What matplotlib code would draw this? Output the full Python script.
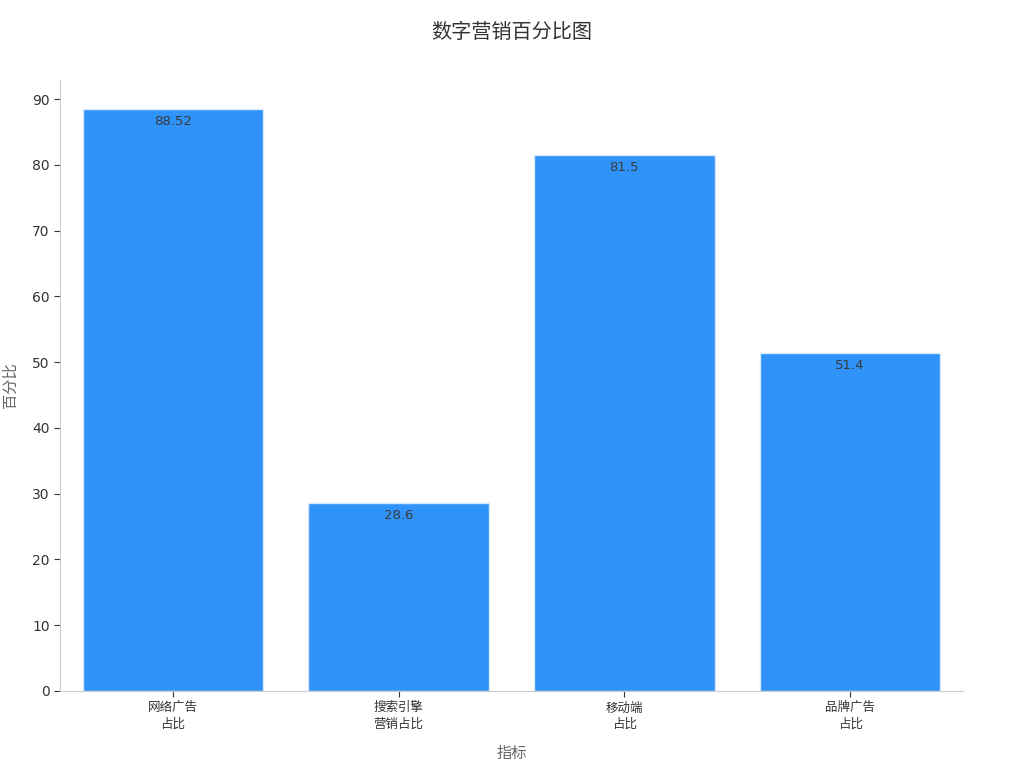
import matplotlib.pyplot as plt

plt.rcParams['font.family'] = ['DejaVu Sans', 'Noto Sans CJK SC']

categories = ['网络广告\n占比', '搜索引擎\n营销占比', '移动端\n占比', '品牌广告\n占比']
values = [88.52, 28.6, 81.5, 51.4]
value_labels = ['88.52', '28.6', '81.5', '51.4']

fig = plt.figure(figsize=(10.24, 7.68), dpi=100)
ax = fig.add_axes([0.0586, 0.1003, 0.8818, 0.7957])

x = range(len(categories))
bars = ax.bar(x, values, width=0.8, color='#2F93F9', edgecolor='#D6E9FD', linewidth=1)

for b, lab in zip(bars, value_labels):
    ax.text(b.get_x() + b.get_width() / 2, b.get_height() - 0.9, lab,
            ha='center', va='top', fontsize=9.5, color='#3a3a3a')

ax.set_xlim(-0.5, 3.5)
ax.set_ylim(0, max(values) * 1.05)
ax.set_yticks(range(0, 91, 10))
ax.set_xticks(list(x))
ax.set_xticklabels(categories, fontsize=9, color='#333333', linespacing=1.3)
ax.tick_params(axis='y', labelsize=10, colors='#333333', length=4)
ax.tick_params(axis='x', length=4, colors='#333333')

for side in ['top', 'right']:
    ax.spines[side].set_visible(False)
for side in ['left', 'bottom']:
    ax.spines[side].set_color('#cccccc')

ax.set_xlabel('指标', fontsize=11, color='#666666', labelpad=11)
ax.set_ylabel('百分比', fontsize=11, color='#666666', labelpad=10)
fig.suptitle('数字营销百分比图', fontsize=14.5, color='#333333', y=0.97)

fig.savefig('out.png', dpi=100)
